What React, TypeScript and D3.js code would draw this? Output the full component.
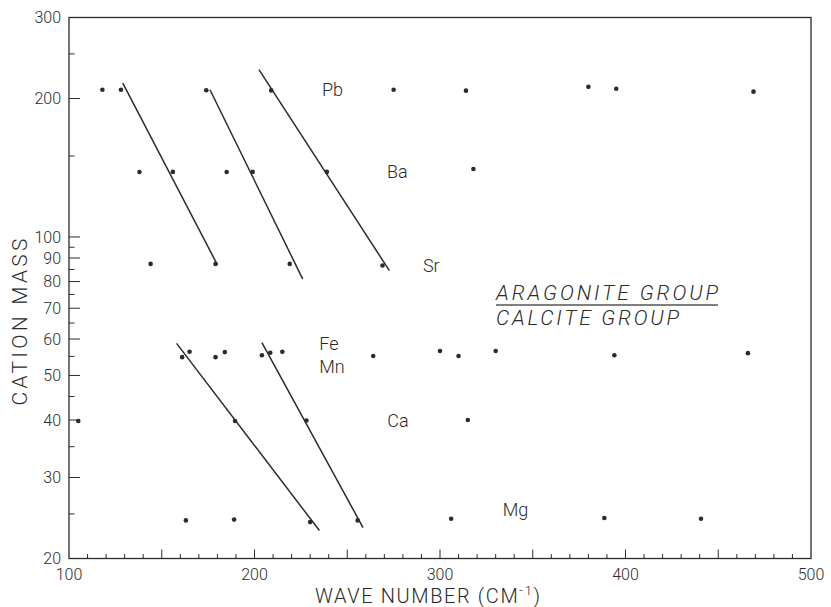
import * as d3 from 'd3';

// wave number (cm^-1) vs cation mass
const pbPoints: [number, number][] = [[118, 209], [128, 209], [174, 208.5], [209, 208.3], [275, 209], [314, 208], [380, 212], [395, 210], [469, 207]];
const baPoints: [number, number][] = [[138, 138.4], [156, 138.5], [185, 138.4], [199, 138.5], [239, 138.5], [318, 140.5]];
const srPoints: [number, number][] = [[144, 87.4], [179, 87.4], [219, 87.4], [269, 86.7]];
const feMnPoints: [number, number][] = [[161, 54.8], [165, 56.3], [179, 54.8], [184, 56.2], [204, 55.3], [208.5, 56], [215, 56.3], [264, 55.1], [300, 56.5], [310, 55.1], [330, 56.5], [394, 55.3], [466, 55.9]];
const caPoints: [number, number][] = [[105, 39.8], [189.5, 39.8], [228, 39.9], [315, 40]];
const mgPoints: [number, number][] = [[163, 24.2], [189, 24.3], [230, 24], [255.6, 24.2], [306, 24.4], [388.6, 24.5], [440.7, 24.4]];

const fitLines: [number, number][][] = [
  [[129, 216], [180, 87]],
  [[176, 209], [226, 81]],
  [[202.4, 231], [272.7, 84.5]],
  [[158, 58.7], [235, 23]],
  [[204, 58.9], [258.5, 23.35]],
];

const cationLabels = [
  { text: 'Pb', wn: 236.4, mass: 209.2 },
  { text: 'Ba', wn: 271.4, mass: 138.8 },
  { text: 'Sr', wn: 290.8, mass: 86.9 },
  { text: 'Fe', wn: 234.9, mass: 58.8 },
  { text: 'Mn', wn: 234.9, mass: 52.4 },
  { text: 'Ca', wn: 271.6, mass: 40 },
  { text: 'Mg', wn: 333.8, mass: 25.55 },
];

const xTickLabels = [100, 200, 300, 400, 500];
const xMajorTicks = [150, 200, 250, 300, 350, 400, 450];
const xMinorTicks = d3.range(110, 500, 10).filter((v) => v % 50 !== 0);
const yTickLabels = [20, 30, 40, 50, 60, 70, 80, 90, 100, 200, 300];
const yMinorTicks = [25, 35, 45, 55, 65, 75, 85, 95, 150, 250];

const W = 831;
const H = 607;
const left = 69;
const right = 811;
const top = 17.5;
const bottom = 558.5;
const ink = '#2b2b2b';
const font = 'Roboto, "Liberation Sans", sans-serif';

export default function App() {
  const x = d3.scaleLinear().domain([100, 500]).range([left, right]);
  const y = d3.scaleLog().domain([20, 300]).range([bottom, top]);
  const line = d3.line<[number, number]>().x((d) => x(d[0])).y((d) => y(d[1]));

  const allPoints = [...pbPoints, ...baPoints, ...srPoints, ...feMnPoints, ...caPoints, ...mgPoints];
  const groupX = x(330.2);

  return (
    <svg width={W} height={H} style={{ position: 'fixed', left: 0, top: 0, background: '#fff' }} fontFamily={font}>
      <rect x={left} y={top} width={right - left} height={bottom - top} fill="none" stroke={ink} strokeWidth={1.3} />

      {xMajorTicks.map((v) => (
        <line key={'xM' + v} x1={x(v)} x2={x(v)} y1={bottom} y2={bottom - 9} stroke={ink} strokeWidth={1} />
      ))}
      {xMinorTicks.map((v) => (
        <line key={'xm' + v} x1={x(v)} x2={x(v)} y1={bottom} y2={bottom - 4.5} stroke={ink} strokeWidth={1} />
      ))}
      {yTickLabels.slice(1, -1).map((v) => (
        <line key={'yM' + v} x1={left} x2={left + 11} y1={y(v)} y2={y(v)} stroke={ink} strokeWidth={1} />
      ))}
      {yMinorTicks.map((v) => (
        <line key={'ym' + v} x1={left} x2={left + 5.5} y1={y(v)} y2={y(v)} stroke={ink} strokeWidth={1} />
      ))}

      {xTickLabels.map((v) => (
        <text key={'xl' + v} x={x(v)} y={bottom + 21} textAnchor="middle" fontSize={16} fill={ink} fontWeight={300}>
          {v}
        </text>
      ))}
      {yTickLabels.map((v) => (
        <text key={'yl' + v} x={left - 8} y={y(v)} dy="0.35em" textAnchor="end" fontSize={16} fill={ink} fontWeight={300}>
          {v}
        </text>
      ))}

      <text
        transform={`translate(27,322) rotate(-90)`}
        textAnchor="middle"
        fontSize={21}
        fill={ink}
        fontWeight={300}
        textLength={167}
        lengthAdjust="spacing"
      >
        CATION MASS
      </text>
      <text x={315} y={603} fontSize={20} fill={ink} fontWeight={300} letterSpacing={1.6}>
        WAVE NUMBER (CM
        <tspan fontSize={13} dy={-8}>-1</tspan>
        <tspan dy={8}>)</tspan>
      </text>

      {fitLines.map((seg, i) => (
        <path key={'fit' + i} d={line(seg) || ''} fill="none" stroke={ink} strokeWidth={1.5} />
      ))}

      {allPoints.map((d, i) => (
        <circle key={'p' + i} cx={x(d[0])} cy={y(d[1])} r={2.3} fill={ink} />
      ))}

      {cationLabels.map((l) => (
        <text key={l.text} x={x(l.wn)} y={y(l.mass)} dy="0.36em" fontSize={18} fill={ink} fontWeight={300}>
          {l.text}
        </text>
      ))}

      <text x={groupX} y={300} fontSize={21} fontStyle="italic" fill={ink} fontWeight={300} textLength={222} lengthAdjust="spacing">
        ARAGONITE  GROUP
      </text>
      <line x1={groupX} x2={groupX + 222} y1={305} y2={305} stroke="#555" strokeWidth={1.5} />
      <text x={groupX} y={325} fontSize={21} fontStyle="italic" fill={ink} fontWeight={300} textLength={183} lengthAdjust="spacing">
        CALCITE  GROUP
      </text>
    </svg>
  );
}
